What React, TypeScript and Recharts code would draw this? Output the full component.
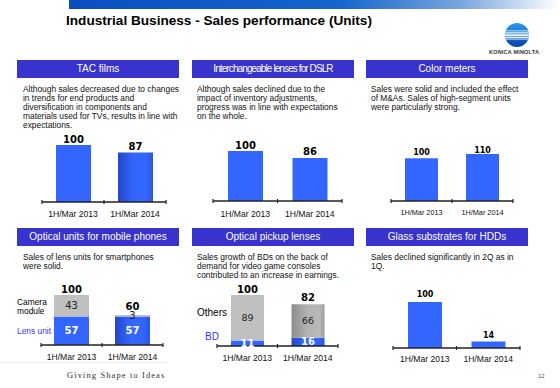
import React from 'react'
import { BarChart, Bar, XAxis, YAxis, LabelList, Cell } from 'recharts'

// values are indexed 1H/Mar 2013 = 100
const periods = ['1H/Mar 2013', '1H/Mar 2014']
const tacFilms = [100, 87]
const dslrLenses = [100, 86]
const colorMeters = [100, 110]
const lensUnit = [57, 57]
const cameraModule = [43, 3]
const bdLenses = [11, 16]
const otherLenses = [89, 66]
const hddGlass = [100, 14]

const SANS = '"Liberation Sans", Arial, sans-serif'
const VERD = '"DejaVu Sans", Verdana, sans-serif'
const BLUE = '#3366ff'
const HEAD = '#3733cc'

type Frame = { left: number; right: number; top: number; axisY: number }

const PAD = 12
const TOPPAD = 22
const XH = 24

function axisTick(band: number, count: number, base: number, font: number) {
  return (p: any) => {
    const { x, y, payload, index } = p
    return (
      <g>
        <line x1={x - band / 2} x2={x - band / 2} y1={y - 2} y2={y + 2} stroke="#222" strokeWidth={1.2} />
        {index === count - 1 && (
          <line x1={x + band / 2} x2={x + band / 2} y1={y - 2} y2={y + 2} stroke="#222" strokeWidth={1.2} />
        )}
        <text x={x} y={y + base} textAnchor="middle" fontFamily={SANS} fontSize={font} fill="#111">
          {payload.value}
        </text>
      </g>
    )
  }
}

function topLabel(font: number, lift: number[]) {
  return (p: any) => {
    const vb = p.viewBox || p
    const i = p.index ?? 0
    return (
      <text
        x={vb.x + vb.width / 2}
        y={vb.y - lift[i]}
        textAnchor="middle"
        fontFamily={VERD}
        fontWeight="bold"
        fontSize={font}
        fill="#000"
      >
        {p.value}
      </text>
    )
  }
}

function SingleBars({
  id, values, f, barSize, valFont, tickFont, tickBase, lift, shaded,
}: {
  id: string; values: number[]; f: Frame; barSize: number; valFont: number
  tickFont: number; tickBase: number; lift: number[]; shaded?: boolean
}) {
  const data = periods.map((p, i) => ({ period: p, v: values[i] }))
  const band = (f.right - f.left) / periods.length
  return (
    <div style={{ position: 'absolute', left: f.left - PAD, top: f.top - TOPPAD }}>
      <BarChart
        width={f.right - f.left + PAD * 2}
        height={TOPPAD + (f.axisY - f.top) + XH}
        data={data}
        margin={{ top: TOPPAD, right: PAD, left: PAD, bottom: 0 }}
      >
        <defs>
          <linearGradient id={id} x1="0" y1="0" x2="1" y2="0">
            <stop offset="0" stopColor="#2447c8" />
            <stop offset="0.45" stopColor="#3366ff" />
            <stop offset="0.8" stopColor="#3366ff" />
            <stop offset="1" stopColor="#2b55dc" />
          </linearGradient>
        </defs>
        <YAxis hide domain={[0, Math.max(...values)]} />
        <XAxis
          dataKey="period"
          height={XH}
          interval={0}
          tickLine={false}
          tickSize={0}
          tickMargin={0}
          axisLine={{ stroke: '#222', strokeWidth: 1.3 }}
          tick={axisTick(band, periods.length, tickBase, tickFont)}
        />
        <Bar dataKey="v" barSize={barSize} fill={BLUE} isAnimationActive={false}>
          {data.map((_, i) => (
            <Cell key={i} fill={shaded && i === 1 ? `url(#${id})` : BLUE} />
          ))}
          <LabelList dataKey="v" content={topLabel(valFont, lift)} />
        </Bar>
      </BarChart>
    </div>
  )
}

function StackedBars({
  id, lower, upper, f, barSize, lowerFont, upperFont, upperFill, lift,
}: {
  id: string; lower: number[]; upper: number[]; f: Frame; barSize: number
  lowerFont: number; upperFont: number; upperFill: string; lift: number[]
}) {
  const data = periods.map((p, i) => ({ period: p, lo: lower[i], up: upper[i], total: lower[i] + upper[i] }))
  const band = (f.right - f.left) / periods.length
  const max = Math.max(...data.map((d) => d.total))
  return (
    <div style={{ position: 'absolute', left: f.left - PAD, top: f.top - TOPPAD }}>
      <BarChart
        width={f.right - f.left + PAD * 2}
        height={TOPPAD + (f.axisY - f.top) + XH}
        data={data}
        margin={{ top: TOPPAD, right: PAD, left: PAD, bottom: 0 }}
      >
        <defs>
          <linearGradient id={id + 'b'} x1="0" y1="0" x2="1" y2="0">
            <stop offset="0" stopColor="#2447c8" />
            <stop offset="0.45" stopColor="#3366ff" />
            <stop offset="0.8" stopColor="#3366ff" />
            <stop offset="1" stopColor="#2b55dc" />
          </linearGradient>
          <linearGradient id={id + 'g'} x1="0" y1="0" x2="1" y2="0">
            <stop offset="0" stopColor="#8c8c8c" />
            <stop offset="0.5" stopColor="#b4b4b4" />
            <stop offset="0.85" stopColor="#b8b8b8" />
            <stop offset="1" stopColor="#9a9a9a" />
          </linearGradient>
        </defs>
        <YAxis hide domain={[0, max]} />
        <XAxis
          dataKey="period"
          height={XH}
          interval={0}
          tickLine={false}
          tickSize={0}
          tickMargin={0}
          axisLine={{ stroke: '#222', strokeWidth: 1.3 }}
          tick={axisTick(band, periods.length, 14.5, 8.6)}
        />
        <Bar dataKey="lo" stackId="s" barSize={barSize} fill={BLUE} isAnimationActive={false}>
          {data.map((_, i) => (
            <Cell key={i} fill={i === 1 ? `url(#${id}b)` : BLUE} />
          ))}
          <LabelList
            dataKey="lo"
            position="center"
            fill="#fff"
            fontFamily={VERD}
            fontWeight="bold"
            fontSize={lowerFont}
          />
        </Bar>
        <Bar dataKey="up" stackId="s" barSize={barSize} fill="#c0c0c0" isAnimationActive={false}>
          {data.map((_, i) => (
            <Cell key={i} fill={i === 1 ? upperFill.replace('ID', id) : '#c0c0c0'} />
          ))}
          <LabelList dataKey="up" position="center" fill="#222" fontFamily={VERD} fontSize={upperFont} />
          <LabelList dataKey="total" content={topLabel(10, lift)} />
        </Bar>
      </BarChart>
    </div>
  )
}

const headerStyle = (left: number, top: number, ls = 0): React.CSSProperties => ({
  position: 'absolute',
  left,
  top,
  width: 162,
  height: 18,
  background: HEAD,
  color: '#fff',
  fontFamily: SANS,
  fontSize: 10,
  lineHeight: '18px',
  textAlign: 'center',
  letterSpacing: ls,
  whiteSpace: 'nowrap',
})

function Desc({ left, top, lines }: { left: number; top: number; lines: string[] }) {
  return (
    <div
      style={{
        position: 'absolute',
        left,
        top,
        fontFamily: SANS,
        fontSize: 8.4,
        lineHeight: '9.1px',
        color: '#111',
        whiteSpace: 'nowrap',
      }}
    >
      {lines.map((l, i) => (
        <div key={i}>{l}</div>
      ))}
    </div>
  )
}

const txt = (left: number, top: number, size: number, color: string, extra: React.CSSProperties = {}): React.CSSProperties => ({
  position: 'absolute',
  left,
  top,
  fontFamily: SANS,
  fontSize: size,
  color,
  whiteSpace: 'nowrap',
  lineHeight: 1,
  ...extra,
})

function Logo() {
  const stripes = [
    { y: 9.5, h: 0.8 },
    { y: 11.3, h: 1.2 },
    { y: 13.3, h: 1.6 },
    { y: 15.6, h: 1.3 },
    { y: 17.6, h: 0.9 },
  ]
  return (
    <svg width={28} height={28} style={{ position: 'absolute', left: 503, top: 21 }}>
      <defs>
        <linearGradient id="lg" x1="0" y1="0" x2="0" y2="1">
          <stop offset="0" stopColor="#2a9be8" />
          <stop offset="0.5" stopColor="#1470d0" />
          <stop offset="1" stopColor="#0a3fa8" />
        </linearGradient>
        <clipPath id="lc">
          <circle cx={14} cy={14} r={12} />
        </clipPath>
      </defs>
      <circle cx={14} cy={14} r={12} fill="url(#lg)" />
      <g clipPath="url(#lc)">
        {stripes.map((s, i) => (
          <rect key={i} x={0} y={s.y} width={28} height={s.h} fill="#fff" />
        ))}
      </g>
    </svg>
  )
}

export default function App() {
  return (
    <div style={{ position: 'absolute', left: 0, top: 0, width: 560, height: 388, background: '#fff', overflow: 'hidden' }}>
      <div
        style={{
          position: 'absolute',
          left: 69,
          top: 0,
          width: 491,
          height: 9,
          background: 'linear-gradient(to right, #0a4fc0 0%, #1565cc 55%, #7aa6de 80%, #ffffff 100%)',
        }}
      />
      <div style={txt(66, 13.5, 13.6, '#000', { fontWeight: 'bold' })}>
        Industrial Business - Sales performance (Units)
      </div>
      <Logo />
      <div style={txt(489, 50, 5.5, '#333', { fontWeight: 'bold', letterSpacing: 0.2 })}>KONICA MINOLTA</div>

      <div style={headerStyle(17, 60)}>TAC films</div>
      <div style={headerStyle(192, 60, -0.9)}>Interchangeable lenses for DSLR</div>
      <div style={headerStyle(366, 60)}>Color meters</div>

      <Desc
        left={23}
        top={85}
        lines={[
          'Although sales decreased due to changes',
          'in trends for end products and',
          'diversification in components and',
          'materials used for TVs, results in line with',
          'expectations.',
        ]}
      />
      <Desc
        left={197}
        top={85}
        lines={[
          'Although sales declined due to the',
          'impact of inventory adjustments,',
          'progress was in line with expectations',
          'on the whole.',
        ]}
      />
      <Desc
        left={371}
        top={85}
        lines={[
          'Sales were solid and included the effect',
          'of M&As. Sales of high-segment units',
          'were particularly strong.',
        ]}
      />

      <SingleBars id="tac" values={tacFilms} f={{ left: 42, right: 166, top: 145, axisY: 202 }} barSize={35}
        valFont={10} tickFont={8.6} tickBase={15} lift={[2.5, 2.5]} shaded />
      <SingleBars id="dslr" values={dslrLenses} f={{ left: 213, right: 342, top: 151, axisY: 201 }} barSize={35}
        valFont={10} tickFont={8.6} tickBase={16} lift={[2, 3.5]} />
      <SingleBars id="cm" values={colorMeters} f={{ left: 391, right: 513, top: 154, axisY: 201 }} barSize={33}
        valFont={8} tickFont={7.3} tickBase={13.5} lift={[3, 1]} />

      <div style={headerStyle(17, 228)}>Optical units for mobile phones</div>
      <div style={headerStyle(192, 228)}>Optical pickup lenses</div>
      <div style={headerStyle(366, 228)}>Glass substrates for HDDs</div>

      <Desc left={23} top={253} lines={['Sales of lens units for smartphones', 'were solid.']} />
      <Desc
        left={197}
        top={253}
        lines={[
          'Sales growth of BDs on the back of',
          'demand for video game consoles',
          'contributed to an increase in earnings.',
        ]}
      />
      <Desc left={371} top={253} lines={['Sales declined significantly in 2Q as in', '1Q.']} />

      <div style={txt(17, 298, 8.4, '#000', { lineHeight: '8.5px' })}>
        Camera
        <br />
        module
      </div>
      <div style={txt(17, 327, 8.4, '#3333ff')}>Lens unit</div>
      <StackedBars id="ou" lower={lensUnit} upper={cameraModule} f={{ left: 41, right: 163, top: 295, axisY: 345 }}
        barSize={35} lowerFont={10} upperFont={10} upperFill="#c0c0c0" lift={[2.5, 5.5]} />

      <div style={txt(197, 308, 10, '#000')}>Others</div>
      <div style={txt(205, 332, 10, '#3333ff')}>BD</div>
      <StackedBars id="op" lower={bdLenses} upper={otherLenses} f={{ left: 217, right: 338, top: 295, axisY: 346 }}
        barSize={33} lowerFont={10} upperFont={9.5} upperFill="url(#IDg)" lift={[2.5, 3.5]} />

      <SingleBars id="hdd" values={hddGlass} f={{ left: 393, right: 520, top: 302, axisY: 348 }} barSize={34}
        valFont={8} tickFont={8.6} tickBase={13.5} lift={[5, 4]} />

      <div style={{ position: 'absolute', left: 0, top: 362, width: 167, height: 1, background: '#ececec' }} />
      <div style={txt(67, 371, 8.5, '#333', { fontFamily: '"Liberation Serif", "DejaVu Serif", serif', letterSpacing: 1.1 })}>
        Giving Shape to Ideas
      </div>
      <div style={txt(538, 373, 6, '#555')}>12</div>
    </div>
  )
}
